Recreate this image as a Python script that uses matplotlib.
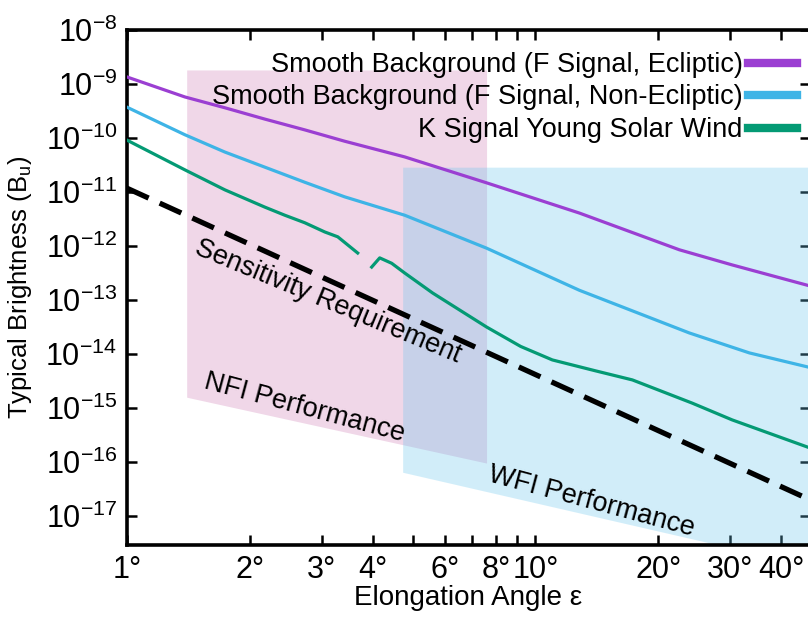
import matplotlib
matplotlib.use('Agg')
import matplotlib.pyplot as plt
from matplotlib.lines import Line2D
import numpy as np

plt.rcParams['font.family'] = ['Liberation Sans', 'DejaVu Sans']
plt.rcParams['mathtext.fontset'] = 'custom'
plt.rcParams['mathtext.rm'] = 'Liberation Sans'
plt.rcParams['mathtext.default'] = 'regular'

# data (angles in degrees, brightness as log10)
ecl_x = [1.0, 1.386, 1.736, 2.175, 2.725, 3.412, 4.784, 7.59, 12.81, 22.5, 30.3, 47.0]
ecl_y = [-8.87, -9.24, -9.44, -9.65, -9.85, -10.06, -10.35, -10.83, -11.39, -12.07, -12.35, -12.74]

nonecl_x = [1.0, 1.386, 1.736, 2.175, 2.725, 3.412, 4.784, 7.59, 12.81, 23.8, 33.4, 47.0]
nonecl_y = [-9.43, -9.94, -10.26, -10.54, -10.82, -11.09, -11.43, -12.04, -12.82, -13.61, -13.98, -14.25]

ksig_x1 = [1.0, 1.386, 1.736, 2.175, 2.434, 2.725, 3.049, 3.281, 3.671]
ksig_y1 = [-10.04, -10.59, -10.96, -11.28, -11.43, -11.57, -11.74, -11.83, -12.13]
ksig_x2 = [3.972, 4.156, 4.446, 4.784, 5.60, 7.59, 9.2, 11.0, 14.0, 17.27, 24.2, 30.3, 47.0]
ksig_y2 = [-12.39, -12.22, -12.32, -12.50, -12.87, -13.50, -13.86, -14.11, -14.31, -14.48, -14.91, -15.22, -15.74]

req_x = [1.0, 47.0]
req_y = [-10.93, -16.70]

nfi_x = [1.40, 7.59]
nfi_top = [-8.74, -8.74]
nfi_bot = [-14.80, -16.02]

wfi_x = [4.73, 60.0]
wfi_top = [-10.54, -10.54]
wfi_bot = [-16.19, -18.11]

xticks = [1, 2, 3, 4, 5, 6, 7, 8, 9, 10, 20, 30, 40]
xlabels = ['1°', '2°', '3°', '4°', '', '6°', '', '8°', '', '10°', '20°', '30°', '40°']
yexp = list(range(-17, -7))

c_ecl = '#9b3fd2'
c_non = '#3eb4e6'
c_k = '#049a74'

fig = plt.figure(figsize=(8.08, 6.18), dpi=100)
ax = fig.add_axes([127/808, 73/618, 683/808, 515/618])
ax.set_xscale('log')
ax.set_yscale('log')

p = lambda v: 10.0 ** np.array(v)

ax.fill_between(nfi_x, p(nfi_bot), p(nfi_top), color='#f0d7e8', lw=0, zorder=1)
ax.fill_between(wfi_x, p(wfi_bot), p(wfi_top), color='#69c6ee', alpha=0.3, lw=0, zorder=2)

ax.plot(ecl_x, p(ecl_y), color=c_ecl, lw=2.3, zorder=4)
ax.plot(nonecl_x, p(nonecl_y), color=c_non, lw=2.3, zorder=4)
ax.plot(ksig_x1, p(ksig_y1), color=c_k, lw=2.3, zorder=4)
ax.plot(ksig_x2, p(ksig_y2), color=c_k, lw=2.3, zorder=4)
ax.plot(req_x, p(req_y), color='black', lw=3.8, ls=(0, (4.5, 2.3)), zorder=5)

ax.set_xlim(1, 47)
ax.set_ylim(10 ** -17.537, 1e-8)

ax.set_xticks(xticks)
ax.set_xticklabels(xlabels)
ax.xaxis.set_minor_locator(plt.NullLocator())
ax.set_yticks([10.0 ** e for e in yexp])
ax.set_yticklabels(['$10^{%d}$' % e for e in yexp])
ax.yaxis.set_minor_locator(plt.NullLocator())
ax.tick_params(which='both', direction='in', top=True, right=True,
               length=7, width=1.8, labelsize=22, pad=7)
for s in ax.spines.values():
    s.set_linewidth(2.6)

ax.set_xlabel('Elongation Angle ε', fontsize=20, labelpad=0)
ax.set_ylabel('Typical Brightness (B$_u$)', fontsize=18.5, labelpad=8)

# annotations, centres given in pixels from the top left
def ftext(x, y, s, rot):
    fig.text(x / 808, 1 - y / 618, s, fontsize=19.5, rotation=rot,
             ha='center', va='center', rotation_mode='anchor', zorder=6)

ftext(328, 302, 'Sensitivity Requirement', -22.5)
ftext(305, 408, 'NFI Performance', -15)
ftext(591, 502, 'WFI Performance', -15)

handles = [Line2D([], [], color=c_ecl, lw=6),
           Line2D([], [], color=c_non, lw=6),
           Line2D([], [], color=c_k, lw=6)]
labels = ['Smooth Background (F Signal, Ecliptic)',
          'Smooth Background (F Signal, Non-Ecliptic)',
          'K Signal Young Solar Wind']
ax.legend(handles, labels, loc='upper right', bbox_to_anchor=(797/808, 1 - 52/618),
          bbox_transform=fig.transFigure, frameon=False, markerfirst=False,
          fontsize=19.5, handlelength=1.8, handletextpad=0.2, labelspacing=0.24,
          borderpad=0, borderaxespad=0)

fig.savefig('out.png', dpi=100)
